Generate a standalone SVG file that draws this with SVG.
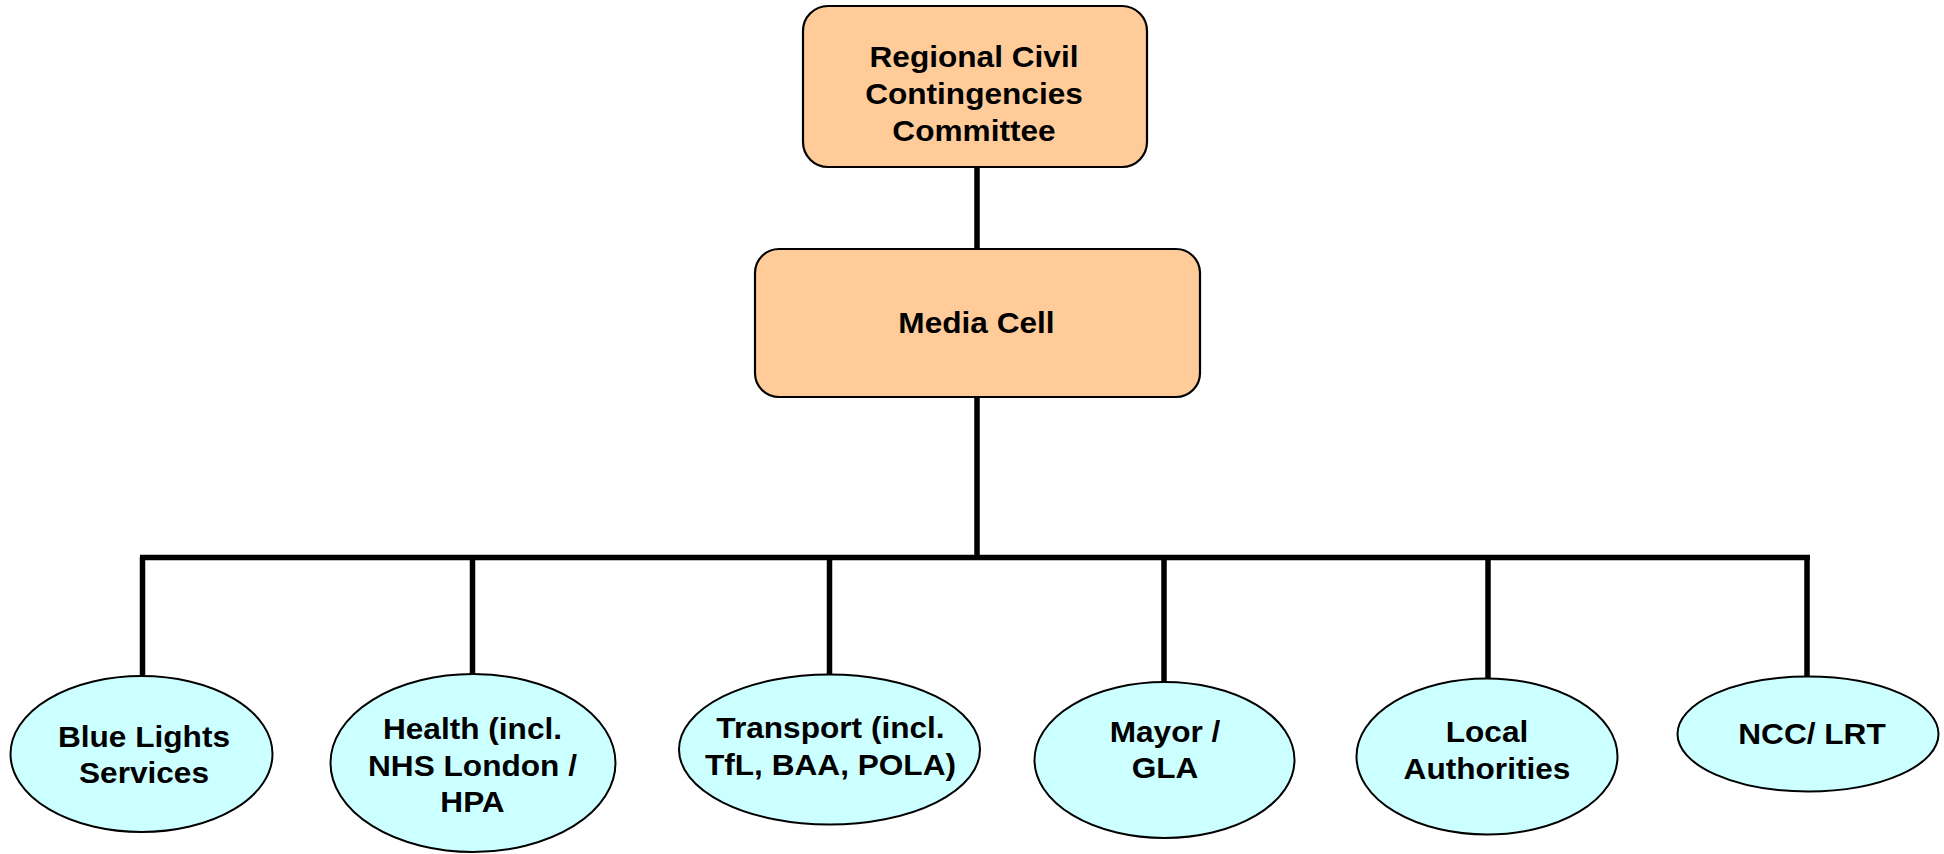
<svg xmlns="http://www.w3.org/2000/svg" width="1944" height="854" viewBox="0 0 1944 854">
<style>
.box{fill:#FFCC99;stroke:#000;stroke-width:2.2}
.ell{fill:#CCFFFF;stroke:#000;stroke-width:2}
.t{font-family:"Liberation Sans",Arial,sans-serif;font-weight:bold;font-size:29px;fill:#000;text-anchor:middle}
.c{stroke:#000;stroke-width:5.5;fill:none}
</style>
<rect width="1944" height="854" fill="#fff"/>
<g id="connectors">
<line class="c" x1="977" y1="167" x2="977" y2="249"/>
<line class="c" x1="977" y1="397" x2="977" y2="558"/>
<line class="c" x1="140" y1="557.5" x2="1810" y2="557.5"/>
<line class="c" x1="142.5" y1="557" x2="142.5" y2="677"/>
<line class="c" x1="472.5" y1="557" x2="472.5" y2="675"/>
<line class="c" x1="829.5" y1="557" x2="829.5" y2="675"/>
<line class="c" x1="1164" y1="557" x2="1164" y2="682"/>
<line class="c" x1="1488" y1="557" x2="1488" y2="678"/>
<line class="c" x1="1807" y1="557" x2="1807" y2="677"/>
</g>
<g id="rccc">
<rect class="box" x="803" y="6" width="344" height="161" rx="25"/>
<g transform="translate(974,0) scale(1.09,1)">
<text class="t" x="0" y="67.5">Regional Civil</text>
<text class="t" x="0" y="104.5">Contingencies</text>
<text class="t" x="0" y="141.5">Committee</text>
</g>
</g>
<g id="media">
<rect class="box" x="755" y="249" width="445" height="148" rx="24"/>
<g transform="translate(976.5,0) scale(1.09,1)">
<text class="t" x="0" y="333.5">Media Cell</text>
</g>
</g>
<g id="bluelights">
<ellipse class="ell" cx="141.5" cy="754" rx="131" ry="78"/>
<g transform="translate(144,0) scale(1.09,1)">
<text class="t" x="0" y="747">Blue Lights</text>
<text class="t" x="0" y="783.5">Services</text>
</g>
</g>
<g id="health">
<ellipse class="ell" cx="473" cy="763" rx="142.5" ry="89"/>
<g transform="translate(472.5,0) scale(1.09,1)">
<text class="t" x="0" y="739">Health (incl.</text>
<text class="t" x="0" y="776">NHS London /</text>
<text class="t" x="0" y="812">HPA</text>
</g>
</g>
<g id="transport">
<ellipse class="ell" cx="829.5" cy="749.5" rx="150.5" ry="75"/>
<g transform="translate(830.5,0) scale(1.09,1)">
<text class="t" x="0" y="738.5">Transport (incl.</text>
<text class="t" x="0" y="775">TfL, BAA, POLA)</text>
</g>
</g>
<g id="mayor">
<ellipse class="ell" cx="1164.5" cy="760" rx="130" ry="78"/>
<g transform="translate(1165,0) scale(1.09,1)">
<text class="t" x="0" y="742">Mayor /</text>
<text class="t" x="0" y="778">GLA</text>
</g>
</g>
<g id="local">
<ellipse class="ell" cx="1487" cy="756.5" rx="130.5" ry="78"/>
<g transform="translate(1487,0) scale(1.09,1)">
<text class="t" x="0" y="742">Local</text>
<text class="t" x="0" y="779">Authorities</text>
</g>
</g>
<g id="ncc">
<ellipse class="ell" cx="1808" cy="734" rx="130.5" ry="57.5"/>
<g transform="translate(1812,0) scale(1.09,1)">
<text class="t" x="0" y="744">NCC/ LRT</text>
</g>
</g>
</svg>
